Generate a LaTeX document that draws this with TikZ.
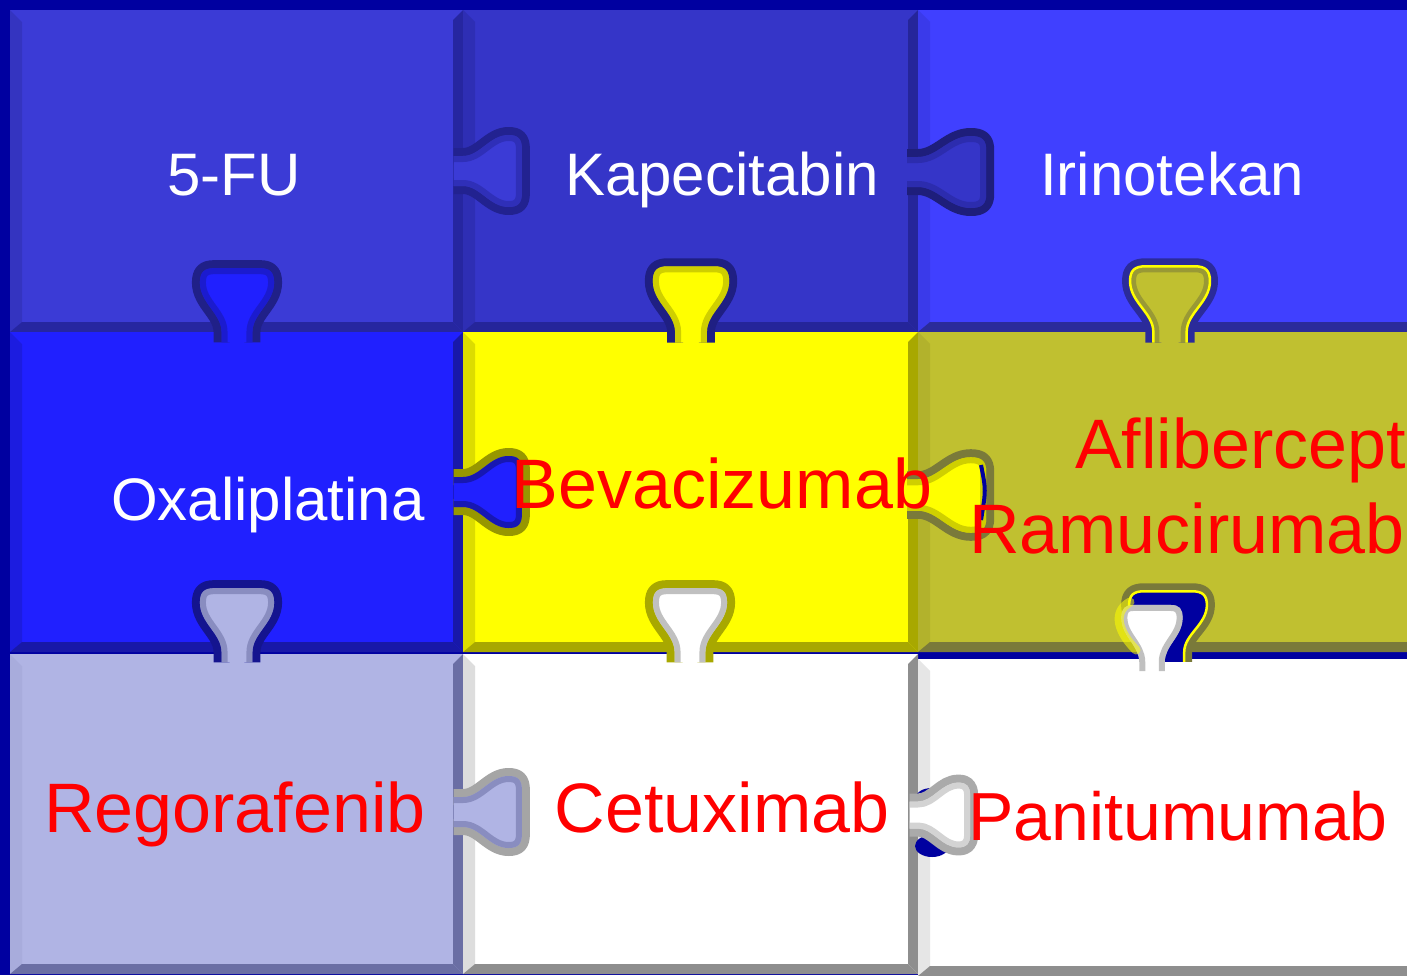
\documentclass[tikz,border=0pt]{standalone}
\usepackage{fontspec}
\setmainfont{Liberation Sans}

% piece colours
\definecolor{bgnavy}{HTML}{0000A0}
\definecolor{fuF}{HTML}{3B3BD6}\definecolor{fuL}{HTML}{3434C0}\definecolor{fuD}{HTML}{2626A0}
\definecolor{kaF}{HTML}{3535C8}\definecolor{kaL}{HTML}{2E2EB4}\definecolor{kaD}{HTML}{25259A}
\definecolor{irF}{HTML}{4040FF}\definecolor{irL}{HTML}{3A3AEA}\definecolor{irD}{HTML}{2B2B9A}
\definecolor{oxF}{HTML}{2020FF}\definecolor{oxL}{HTML}{1C1CE0}\definecolor{oxD}{HTML}{1818A8}
\definecolor{beF}{HTML}{FFFF00}\definecolor{beL}{HTML}{DCDC00}\definecolor{beD}{HTML}{A8A800}
\definecolor{afF}{HTML}{C0C030}\definecolor{afL}{HTML}{B2B22C}\definecolor{afD}{HTML}{7A7A3A}
\definecolor{reF}{HTML}{B0B4E4}\definecolor{reL}{HTML}{A8ACDC}\definecolor{reD}{HTML}{6A6EA4}
\definecolor{ceF}{HTML}{FFFFFF}\definecolor{ceL}{HTML}{DDDDDD}\definecolor{ceD}{HTML}{8E8E8E}
\definecolor{paL}{HTML}{E6E6E6}
\definecolor{txtred}{HTML}{FF0000}

\tikzset{
  wlabel/.style={text=white, anchor=base, inner sep=0pt, font=\fontsize{60}{60}\selectfont},
  rlabel/.style={text=txtred, anchor=base, inner sep=0pt, font=\fontsize{70}{70}\selectfont},
}

% outline of a puzzle tab: depth along x, symmetric in y
\newcommand\tabP{(-10,-15) -- (0,-15) .. controls (18,-15) and (28,-36) .. (48,-36)
  .. controls (58,-36) and (62,-32) .. (62,-22) -- (62,22)
  .. controls (62,32) and (58,36) .. (48,36) .. controls (28,36) and (18,15) .. (0,15) -- (-10,15)}

% #1 base point, #2 rotation, #3 depth scale, #4 width scale,
% #5 socket rim, #6 tab fill, #7 inner shade, #8 edge line
\newcommand\ptab[8]{%
  \begin{scope}[shift={#1},rotate=#2,xscale=#3,yscale=#4]
    \draw[draw=#5,line width=16pt,line join=round] \tabP;
    \fill[#6] \tabP -- cycle;
    \begin{scope}
      \clip \tabP -- cycle;
      \draw[draw=#7,opacity=.55,line width=12pt,line join=round] \tabP;
    \end{scope}
    \draw[draw=#8,line width=2.5pt] \tabP;
  \end{scope}}

% bevelled piece: x1 y1 x2 y2 fill left dark
\newcommand\piece[7]{%
  \fill[#5] (#1,#2) rectangle (#3,#4);
  \fill[#6] (#1,#2) -- (#1+12,#2+12) -- (#1+12,#4-10) -- (#1,#4) -- cycle;
  \fill[#7] (#3,#2) -- (#3-10,#2+10) -- (#3-10,#4-10) -- (#3,#4) -- cycle;
  \fill[#7] (#1,#4) -- (#1+12,#4-10) -- (#3-10,#4-10) -- (#3,#4) -- cycle;}

\begin{document}
\begin{tikzpicture}[x=1pt,y=-1pt]
\useasboundingbox (0,0) rectangle (1407,975);
\clip (0,0) rectangle (1407,975);
\fill[bgnavy] (0,0) rectangle (1407,975);

% pieces
\piece{10}{10}{463}{332}{fuF}{fuL}{fuD}
\piece{463}{10}{918}{332}{kaF}{kaL}{kaD}
\piece{918}{10}{1430}{332}{irF}{irL}{irD}
\piece{10}{332}{463}{652}{oxF}{oxL}{oxD}
\piece{463}{332}{918}{652}{beF}{beL}{beD}
\piece{918}{332}{1430}{652}{afF}{afL}{afD}
\piece{10}{654}{463}{974}{reF}{reL}{reD}
\piece{463}{654}{918}{974}{ceF}{ceL}{ceD}
\piece{918}{659}{1430}{976}{white}{paL}{ceD}

% blue gaps seen beside the white tab into Panitumumab
\fill[bgnavy] (932,797) ellipse [x radius=16, y radius=9];
\fill[bgnavy] (932,846) ellipse [x radius=17, y radius=11];

% horizontal tabs
\ptab{(463,171)}{0}{.95}{1.0}{fuD!90!black}{fuF}{fuD}{none}
\ptab{(918,172)}{0}{1.1}{1.0}{kaD!80!black}{kaF}{kaD}{none}
\ptab{(463,492)}{0}{.95}{1.0}{beD!90!black}{oxF}{oxD!70!black}{none}
\ptab{(918,495)}{0}{1.1}{1.05}{afD}{beF}{beD}{none}
\draw[bgnavy,line width=4pt] (981,465) .. controls (986,490) .. (981,520);
\ptab{(463,812)}{0}{.95}{1.0}{ceD!80!white}{reF}{reD}{none}
\ptab{(918,815)}{0}{.84}{.9}{ceD!75!white}{white}{ceD!70!white}{none}

% vertical tabs
\ptab{(237,332)}{90}{1.03}{1.03}{fuD!85!black}{oxF}{oxD}{none}
\ptab{(691,332)}{90}{1.06}{1.06}{kaD!85!black}{beF}{beD}{none}
\ptab{(1170,332)}{90}{1.06}{1.11}{irD}{afF}{afD}{beF}
\ptab{(237,652)}{90}{1.03}{1.03}{oxD!85!black}{reF}{reD}{none}
\ptab{(690,652)}{90}{1.03}{1.03}{beD}{white}{ceD}{none}

% tab of Panitumumab sitting loosely in its socket
\begin{scope}[shift={(1168,652)},rotate=90,xscale=.98,yscale=1.08]
  \draw[draw=afD,line width=16pt,line join=round] \tabP;
  \fill[bgnavy] \tabP -- cycle;
  \draw[draw=beF,line width=2.5pt] \tabP;
\end{scope}
\begin{scope}[shift={(1152,662)},rotate=90,xscale=.92,yscale=.85]
  \fill[white] \tabP -- cycle;
  \begin{scope}
    \clip \tabP -- cycle;
    \draw[draw=ceD,opacity=.55,line width=12pt,line join=round] \tabP;
  \end{scope}
\end{scope}
\draw[beF,opacity=.55,line width=9pt,line cap=round]
  (1130,602) .. controls (1112,612) and (1118,632) .. (1136,650);

% labels
\node[wlabel] (fu)  at (234,195)  {5-FU};
\node[wlabel] (ka)  at (722,195)  {Kapecitabin};
\node[wlabel] (ir)  at (1172,195) {Irinotekan};
\node[wlabel] (ox)  at (268,520)  {Oxaliplatina};
\node[rlabel] (be)  at (722,508)  {Bevacizumab};
\node[rlabel, anchor=base west] (af) at (1075,468) {Aflibercept};
\node[rlabel, anchor=base west] (ra) at (969,553)  {Ramucirumab};
\node[rlabel] (re)  at (235,832)  {Regorafenib};
\node[rlabel] (ce)  at (722,832)  {Cetuximab};
\node[rlabel, font=\fontsize{68}{68}\selectfont] (pa) at (1178,840) {Panitumumab};
\end{tikzpicture}
\end{document}
